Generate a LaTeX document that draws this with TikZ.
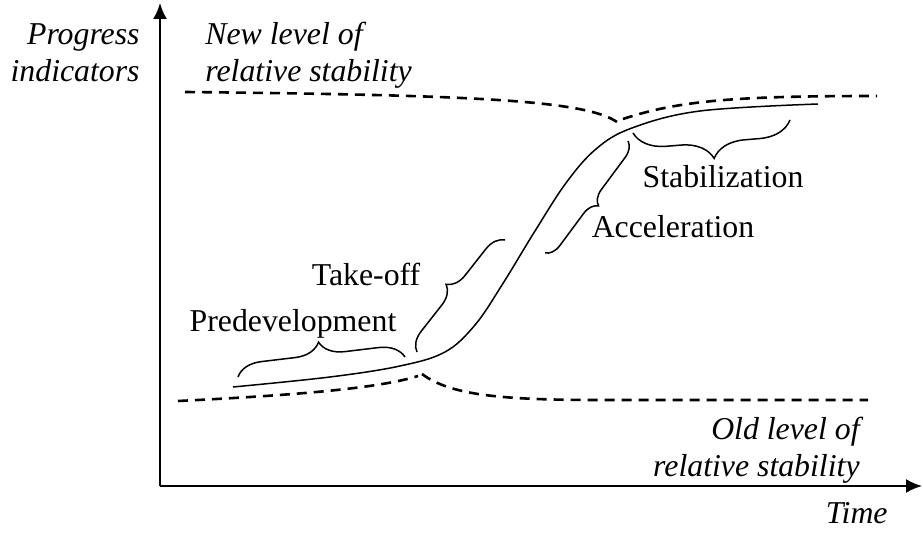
\documentclass[tikz,border=0pt]{standalone}
\usepackage{fontspec}
\setmainfont{Liberation Serif}
\usetikzlibrary{arrows.meta,decorations.pathreplacing}
\tikzstyle{every node}=[font=\fontsize{15.9}{18.5}\selectfont,inner sep=0pt]
\tikzstyle{axis} = [line width=1pt,-{Latex[length=8pt,width=7pt]}]
\tikzstyle{level} = [line width=1.3pt,dash pattern=on 5pt off 3.5pt]
\tikzset{phase/.style={line width=0.75pt,decorate,decoration={brace,amplitude=#1}}}

\begin{document}
\begin{tikzpicture}[x=0.5pt,y=-0.5pt]
\useasboundingbox (0,0) rectangle (923,533);

% axes
\coordinate (origin) at (160,486);
\draw[axis] (origin) -- (160,3);
\draw[axis] (origin) -- (922,486);
\draw (140,53) node[anchor=east,align=right,font=\fontsize{15.9}{18.5}\selectfont\itshape] (yname) {Progress\\indicators};
\draw (888,513) node[anchor=east,font=\fontsize{15.9}{18.5}\selectfont\itshape] (xname) {Time};

% levels
\draw (205,55) node[anchor=west,align=left,font=\fontsize{15.9}{18.5}\selectfont\itshape] (newlevel) {New level of\\relative stability};
\draw (860,450) node[anchor=east,align=right,font=\fontsize{15.9}{18.5}\selectfont\itshape] (oldlevel) {Old level of\\relative stability};
\draw[level] (185,92) .. controls (470,95) and (585,100) .. (617,122);
\draw[level] (623,119) .. controls (680,100) and (740,96) .. (877,96);
\draw[level] (178,401) .. controls (300,395) and (380,388) .. (418,376);
\draw[level] (422,374) .. controls (450,395) and (500,400) .. (600,400) -- (868,400);

% S-curve
\draw[line width=0.75pt] plot[smooth,tension=0.6] coordinates {(233,387) (330,377) (400,366) (445,352) (475,325) (502,285) (535,231) (566,183) (596,149) (632,128) (700,111) (818,104)};

% phases
\draw[phase=12.5pt] (238,377) -- (405,357);
\draw[phase=9.5pt] (417,352) -- (505,240);
\draw[phase=7.5pt] (628,141) -- (545,253);
\draw[phase=16pt] (790,120) -- (633,133);
\draw (293,324) node (predev) {Predevelopment};
\draw (366,274) node (takeoff) {Take-off};
\draw (673,227) node (accel) {Acceleration};
\draw (723,177) node (stab) {Stabilization};

\end{tikzpicture}
\end{document}
